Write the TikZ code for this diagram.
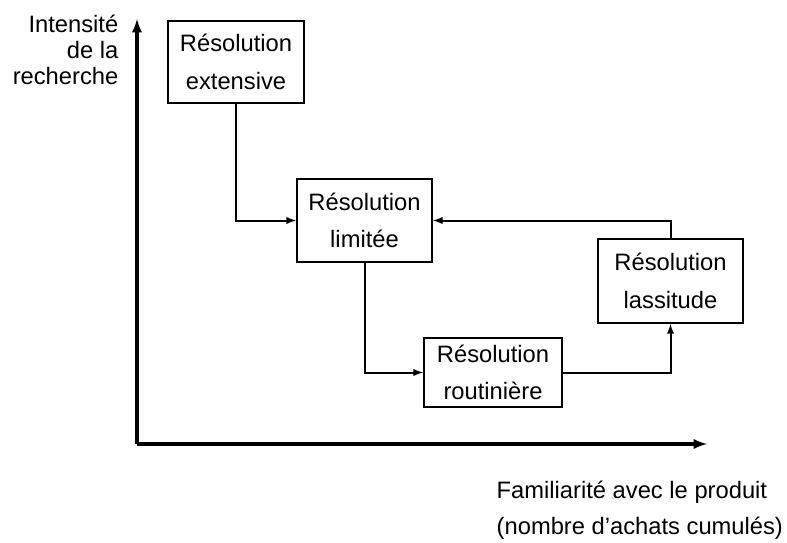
\documentclass[tikz,border=0pt]{standalone}
\usepackage{fontspec}
\setmainfont{Liberation Sans}
\usepackage{tikz}
\usetikzlibrary{arrows}

\tikzset{
  etape/.style={draw, line width=1.5pt, align=center, inner sep=0pt,
    font=\fontsize{17.8}{28}\selectfont},
  fleche/.style={-latex, line width=1.5pt},
  axe/.style={-latex, line width=2.4pt}
}

\begin{document}
\begin{tikzpicture}[x=0.75pt, y=-0.75pt]
\useasboundingbox (0,0) rectangle (787,542);

% Axes
\coordinate (origine) at (137,444);
\coordinate (haut) at (137,19);
\coordinate (droite) at (707,444);
\draw[axe] (origine) -- (haut);
\draw[axe] (origine) -- (droite);

% Axis labels
\node[align=right, anchor=east, font=\fontsize{17.8}{19.5}\selectfont] (intensite) at (123,50) {Intensité\\de la\\recherche};
\node[align=left, anchor=west, font=\fontsize{17.8}{27}\selectfont] (familiarite) at (492,510) {Familiarité avec le produit\\(nombre d’achats cumulés)};

% Boxes
\node[etape, minimum width=136*0.75pt, minimum height=82*0.75pt] (extensive) at (236,62) {Résolution\\extensive};
\node[etape, minimum width=135*0.75pt, minimum height=83*0.75pt] (limitee) at (364.5,220.5) {Résolution\\limitée};
\node[etape, minimum width=138*0.75pt, minimum height=69*0.75pt] (routiniere) at (493,372.5) {Résolution\\routinière};
\node[etape, minimum width=145*0.75pt, minimum height=84*0.75pt] (lassitude) at (670.5,281) {Résolution\\lassitude};

% Connectors
\draw[fleche] (extensive.south) |- (limitee.west);
\draw[fleche] (limitee.south) |- (routiniere.west);
\draw[fleche] (routiniere.east) -| (lassitude.south);
\draw[fleche] (lassitude.north) |- (limitee.east);
\end{tikzpicture}
\end{document}
